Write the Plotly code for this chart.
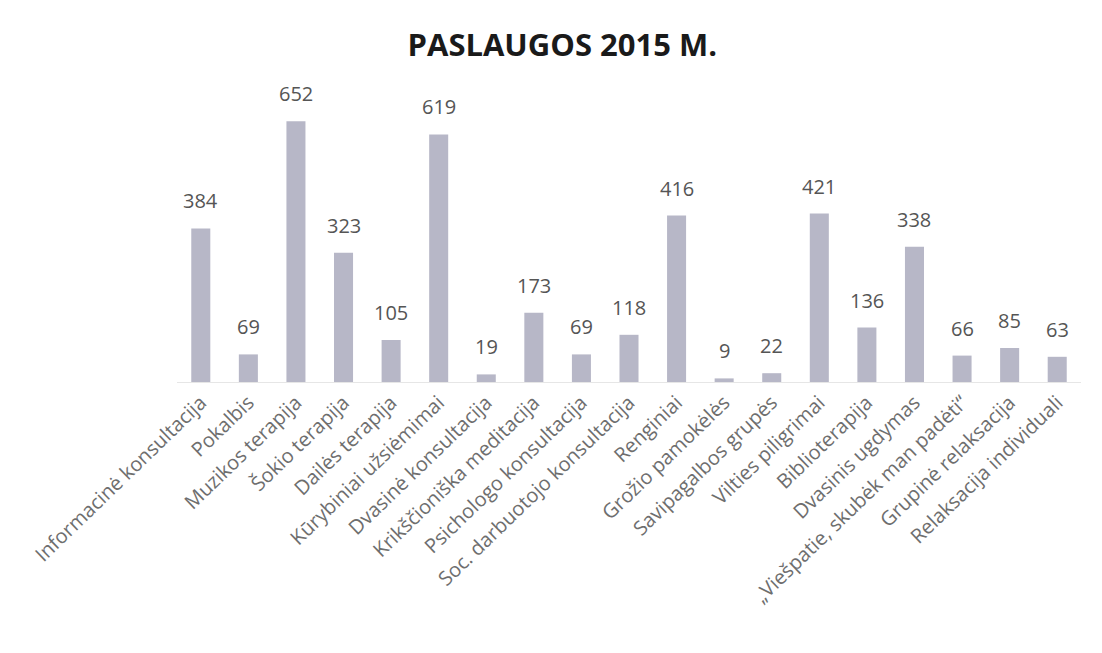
import plotly.graph_objects as go

categories = [
    "Informacinė konsultacija", "Pokalbis", "Muzikos terapija", "Šokio terapija",
    "Dailės terapija", "Kūrybiniai užsiėmimai", "Dvasinė konsultacija",
    "Krikščioniška meditacija", "Psichologo konsultacija", "Soc. darbuotojo konsultacija",
    "Renginiai", "Grožio pamokėlės", "Savipagalbos grupės", "Vilties piligrimai",
    "Biblioterapija", "Dvasinis ugdymas", "„Viešpatie, skubėk man padėti“",
    "Grupinė relaksacija", "Relaksacija individuali",
]
values = [384, 69, 652, 323, 105, 619, 19, 173, 69, 118, 416, 9, 22, 421, 136, 338, 66, 85, 63]

fig = go.Figure(go.Bar(
    x=categories, y=values,
    marker=dict(color="#b7b7c7", line=dict(width=0)),
    width=0.4,
    cliponaxis=False,
))

for c, v in zip(categories, values):
    fig.add_annotation(x=c, y=v, text=str(v), showarrow=False,
                       yanchor="bottom", yshift=12,
                       font=dict(family="Open Sans, sans-serif", size=20, color="#555555"))

fig.update_layout(
    width=1102, height=653,
    paper_bgcolor="white", plot_bgcolor="white",
    margin=dict(l=169, r=29, t=94, b=279),
    title=dict(text="<b>PASLAUGOS 2015 M.</b>", x=0.503, xanchor="center",
               y=0.943, yanchor="middle", yref="container",
               font=dict(family="Open Sans, sans-serif", size=31, color="#1a1a1a")),
    showlegend=False,
)
fig.update_xaxes(tickangle=-44, automargin=False,
                 tickfont=dict(family="Open Sans, sans-serif", size=20, color="#6e6e6e"),
                 showline=True, linecolor="#e6e6e6", ticks="", showgrid=False)
fig.update_yaxes(range=[0, 700], visible=False, automargin=False)

fig.write_html("out.html")
